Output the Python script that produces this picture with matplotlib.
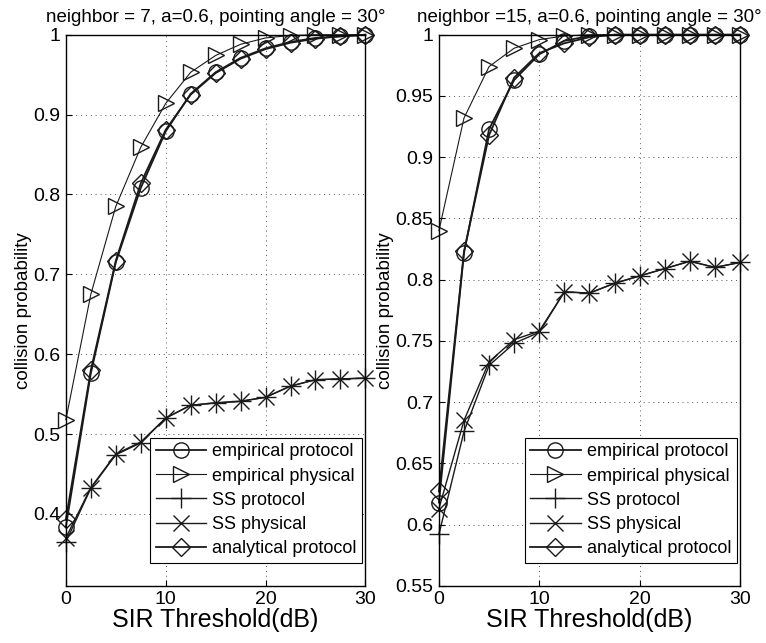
import numpy as np
import matplotlib
matplotlib.use("Agg")
import matplotlib.pyplot as plt

plt.rcParams['font.family'] = ['Liberation Sans', 'DejaVu Sans']

sir_db = [0, 2.5, 5, 7.5, 10, 12.5, 15, 17.5, 20, 22.5, 25, 27.5, 30]

# neighbor = 7
emp_prot_7 = [0.384, 0.576, 0.715, 0.808, 0.879, 0.926, 0.953, 0.971, 0.983, 0.991, 0.996, 0.998, 1.0]
emp_phys_7 = [0.518, 0.675, 0.785, 0.859, 0.914, 0.953, 0.974, 0.988, 0.996, 0.999, 1.0, 1.0, 1.0]
ss_prot_7 = [0.365, 0.432, 0.474, 0.489, 0.520, 0.536, 0.539, 0.541, 0.546, 0.560, 0.568, 0.569, 0.570]
ss_phys_7 = [0.370, 0.433, 0.475, 0.490, 0.520, 0.536, 0.539, 0.541, 0.546, 0.560, 0.568, 0.569, 0.570]
ana_prot_7 = [0.393, 0.580, 0.717, 0.814, 0.881, 0.925, 0.952, 0.970, 0.982, 0.990, 0.995, 0.998, 1.0]

# neighbor = 15
emp_prot_15 = [0.618, 0.822, 0.923, 0.963, 0.984, 0.995, 0.999, 1.0, 1.0, 1.0, 1.0, 1.0, 1.0]
emp_phys_15 = [0.840, 0.932, 0.974, 0.989, 0.996, 0.999, 1.0, 1.0, 1.0, 1.0, 1.0, 1.0, 1.0]
ss_prot_15 = [0.592, 0.676, 0.730, 0.748, 0.757, 0.790, 0.789, 0.797, 0.803, 0.809, 0.815, 0.810, 0.814]
ss_phys_15 = [0.613, 0.685, 0.733, 0.751, 0.758, 0.790, 0.789, 0.797, 0.803, 0.809, 0.815, 0.810, 0.814]
ana_prot_15 = [0.627, 0.823, 0.918, 0.965, 0.985, 0.993, 0.998, 1.0, 1.0, 1.0, 1.0, 1.0, 1.0]

labels = ['empirical protocol', 'empirical physical', 'SS protocol', 'SS physical', 'analytical protocol']
markers = ['o', '>', '+', 'x', 'D']
sizes = [11, 12, 14, 11, 9]
widths = [1.3, 0.8, 1.0, 1.0, 1.3]

panels = [
    ('neighbor = 7, a=0.6, pointing angle = 30\u00b0',
     [emp_prot_7, emp_phys_7, ss_prot_7, ss_phys_7, ana_prot_7],
     (0.31, 1.0), np.arange(0.4, 1.01, 0.1)),
    ('neighbor =15, a=0.6, pointing angle = 30\u00b0',
     [emp_prot_15, emp_phys_15, ss_prot_15, ss_phys_15, ana_prot_15],
     (0.55, 1.0), np.arange(0.55, 1.001, 0.05)),
]

fig = plt.figure(figsize=(7.66, 6.43), dpi=100)
boxes = [[0.086, 0.089, 0.391, 0.857], [0.573, 0.089, 0.393, 0.857]]

for box, (title, series, ylim, yticks) in zip(boxes, panels):
    ax = fig.add_axes(box)
    for vals, lab, m, ms, lw in zip(series, labels, markers, sizes, widths):
        ax.plot(sir_db, vals, color='#1a1a1a', lw=lw, marker=m, ms=ms,
                mfc='none', mec='#1a1a1a', mew=1.0, label=lab, clip_on=False)
    ax.set_xlim(0, 30)
    ax.set_ylim(*ylim)
    ax.set_xticks([0, 10, 20, 30])
    ax.set_yticks(yticks)
    ax.set_yticklabels(['%g' % round(t, 2) for t in yticks])
    ax.tick_params(direction='in', labelsize=14, length=4, width=0.8, pad=4)
    ax.grid(True, linestyle=(0, (1, 4)), color='#555555', lw=0.7)
    for s in ax.spines.values():
        s.set_linewidth(1.0)
    ax.set_title(title, fontsize=13.5, pad=9)
    ax.set_xlabel('SIR Threshold(dB)', fontsize=18, labelpad=0)
    ax.set_ylabel('collision probability', fontsize=13.5, labelpad=1)
    leg = ax.legend(loc='lower right', bbox_to_anchor=(0.99, 0.042),
                    fontsize=13, frameon=True, fancybox=False,
                    edgecolor='black', framealpha=1, handlelength=2.8,
                    handletextpad=0.35, borderpad=0.3, labelspacing=0.4,
                    borderaxespad=0.0)
    leg.get_frame().set_linewidth(0.8)

fig.savefig('out.png', dpi=100)
